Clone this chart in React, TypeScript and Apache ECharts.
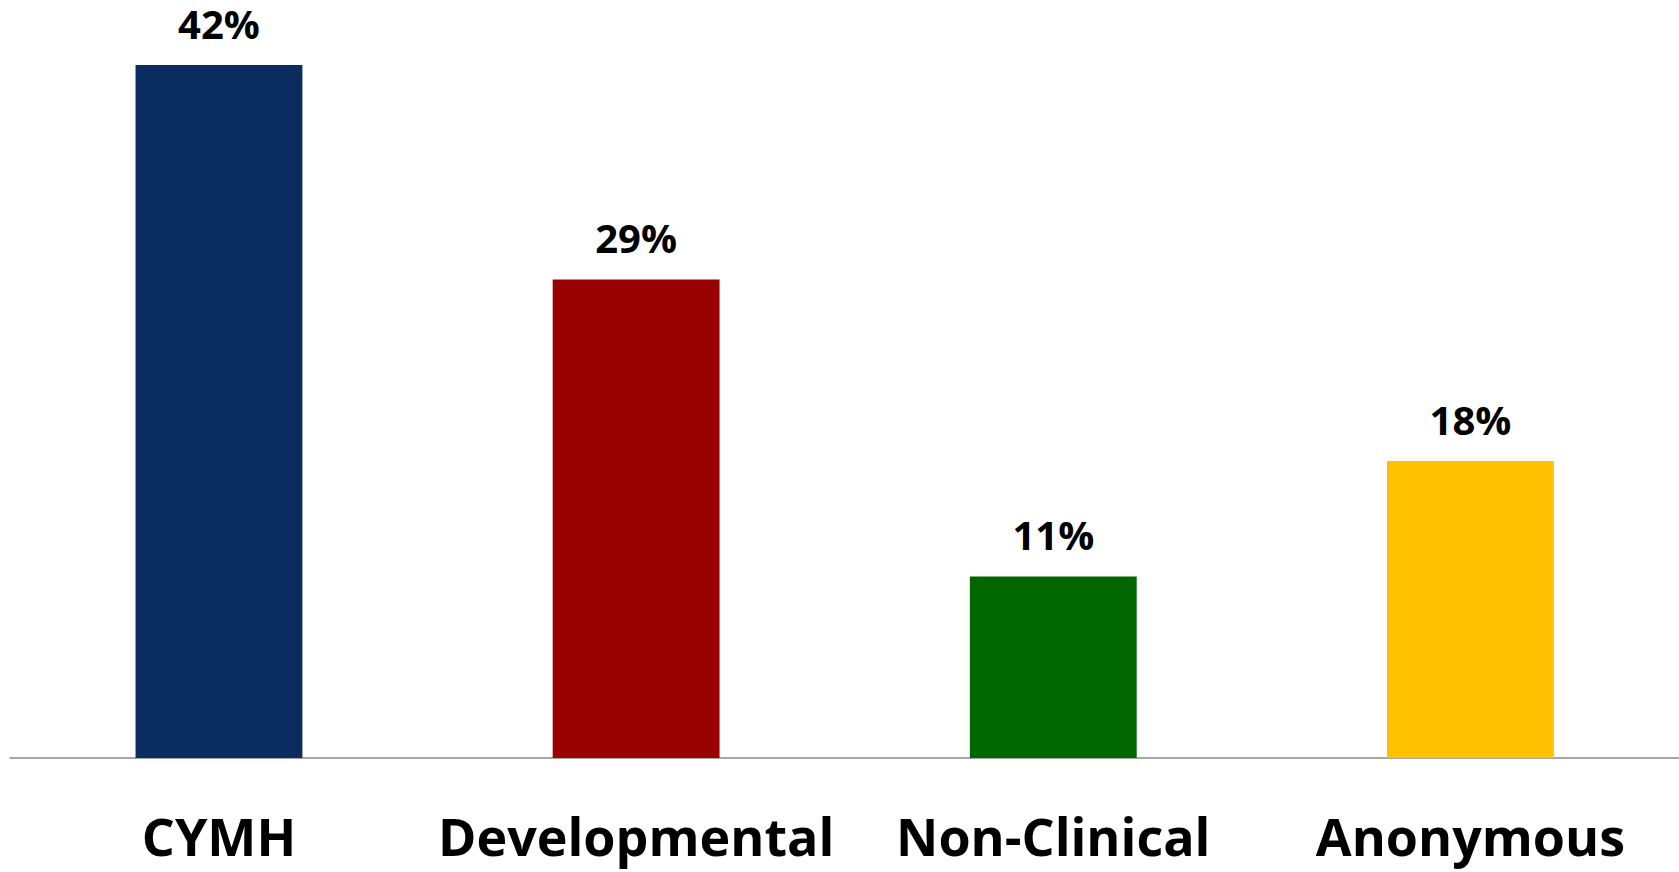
import React, { useEffect, useRef } from "react";
import * as echarts from "echarts";

const categories = ["CYMH", "Developmental", "Non-Clinical", "Anonymous"];
const shares = [42, 29, 11, 18];
const barColors = ["#0B2C5F", "#990000", "#006600", "#FFC000"];

export default function App() {
  const ref = useRef<HTMLDivElement>(null);

  useEffect(() => {
    document.body.style.margin = "0";
    const chart = echarts.init(ref.current!, undefined, { renderer: "svg" });
    chart.setOption({
      animation: false,
      backgroundColor: "#ffffff",
      grid: { left: 10.4, right: 0, top: 15.5, bottom: 114, containLabel: false },
      xAxis: {
        type: "category",
        data: categories,
        axisLine: { show: true, lineStyle: { color: "#A6A6A6", width: 2 } },
        axisTick: { show: false },
        axisLabel: {
          interval: 0,
          margin: 49,
          color: "#000000",
          fontFamily: "Open Sans",
          fontWeight: "bold",
          fontSize: 52,
          lineHeight: 56,
        },
      },
      yAxis: {
        type: "value",
        min: 0,
        max: 45,
        show: false,
        splitLine: { show: false },
      },
      series: [
        {
          type: "bar",
          barWidth: "40%",
          data: shares.map((v, i) => ({ value: v, itemStyle: { color: barColors[i] } })),
          label: {
            show: true,
            position: "top",
            distance: 21,
            formatter: (p: any) => `${p.value}%`,
            color: "#000000",
            fontFamily: "Open Sans",
            fontWeight: "bold",
            fontSize: 40,
            lineHeight: 42,
          },
        },
      ],
    });
    return () => chart.dispose();
  }, []);

  return <div ref={ref} style={{ width: 1679, height: 872 }} />;
}
